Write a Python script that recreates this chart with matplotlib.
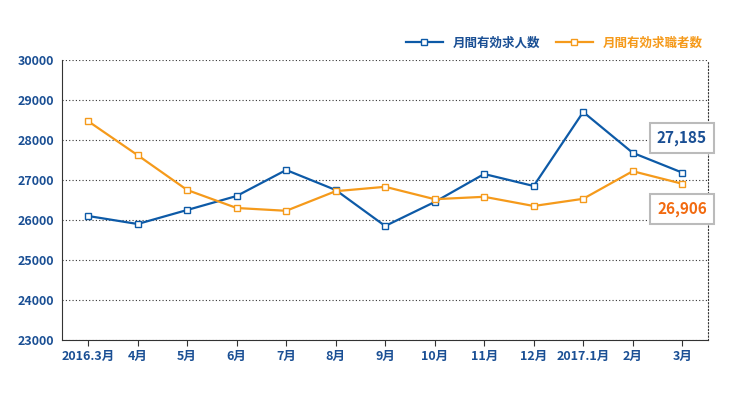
import matplotlib.pyplot as plt

plt.rcParams["font.family"] = "Noto Sans CJK JP"

months = ["2016.3月", "4月", "5月", "6月", "7月", "8月", "9月", "10月", "11月", "12月", "2017.1月", "2月", "3月"]
jobs = [26100, 25900, 26250, 26600, 27250, 26750, 25850, 26450, 27150, 26850, 28700, 27680, 27185]
seekers = [28470, 27620, 26750, 26300, 26230, 26720, 26830, 26520, 26580, 26350, 26530, 27220, 26906]

blue = "#0d5aa7"
orange = "#f59a1b"
text_blue = "#1a4f94"

fig = plt.figure(figsize=(7.4, 4.0), dpi=100)
ax = fig.add_axes([0.084, 0.15, 0.873, 0.70])
x = range(len(months))
ax.plot(x, jobs, color=blue, lw=1.6, marker="s", ms=5, mfc="white", mec=blue, mew=1, label="月間有効求人数", zorder=3)
ax.plot(x, seekers, color=orange, lw=1.6, marker="s", ms=5, mfc="white", mec=orange, mew=1, label="月間有効求職者数", zorder=3)

ax.set_xlim(-0.525, 12.525)
ax.set_ylim(23000, 30000)
ax.set_yticks(range(23000, 30001, 1000))
ax.set_xticks(list(x))
ax.set_xticklabels(months)
ax.yaxis.grid(True, ls=(0, (1, 2)), color="#333", lw=0.8)
ax.tick_params(axis="y", length=0, labelsize=9, labelcolor=text_blue, pad=6)
ax.tick_params(axis="x", length=4, color="#333", labelsize=9, labelcolor=text_blue)
for lab in ax.get_xticklabels() + ax.get_yticklabels():
    lab.set_fontweight("bold")
ax.spines["top"].set_visible(False)
ax.spines["right"].set_linestyle((0, (1, 2)))
ax.spines["right"].set_color("#333")
ax.spines["left"].set_color("#333")
ax.spines["bottom"].set_color("#333")

# callout boxes with the latest values
box = dict(boxstyle="square,pad=0.45", fc="white", ec="#bbbbbb", lw=1.5)
fig.text(682 / 740, 1 - 138 / 400, f"{jobs[-1]:,}", fontsize=11, fontweight="bold", color=text_blue, bbox=box, ha="center", va="center")
fig.text(682 / 740, 1 - 209 / 400, f"{seekers[-1]:,}", fontsize=11, fontweight="bold", color="#f26a10", bbox=box, ha="center", va="center")

leg = ax.legend(loc="lower right", bbox_to_anchor=(1.0, 1.02), ncol=2, frameon=False, fontsize=9,
                handlelength=3, columnspacing=1.2, borderaxespad=0)
for t, c in zip(leg.get_texts(), [text_blue, orange]):
    t.set_color(c)
    t.set_fontweight("bold")

fig.savefig("out.png", dpi=100)
